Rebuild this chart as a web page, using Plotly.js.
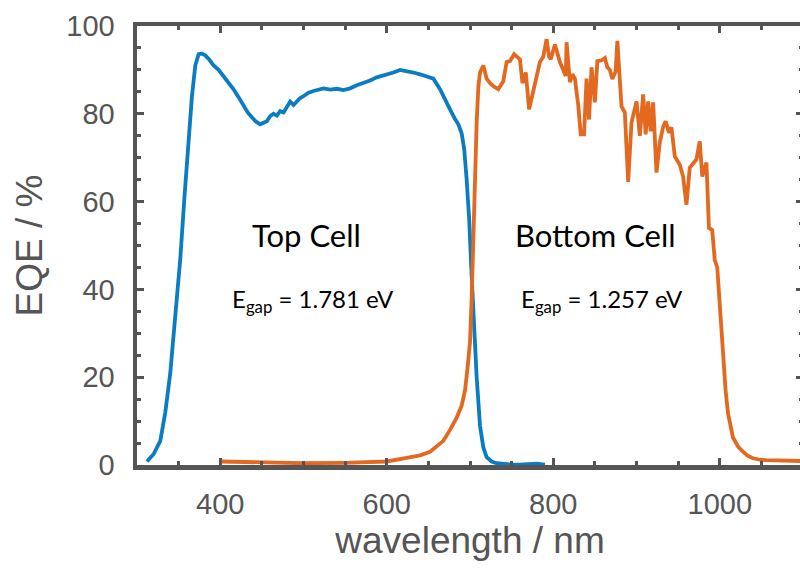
<!DOCTYPE html>
<html>
<head>
<meta charset="utf-8">
<script src="https://cdn.plot.ly/plotly-3.0.1.min.js"></script>
<style>
html,body{margin:0;padding:0;overflow:hidden;background:#fff;width:800px;height:569px;}
#chart{width:806px;height:569px;}
</style>
</head>
<body>
<div id="chart"></div>
<script>
// Top cell EQE (wavelength nm, EQE %)
const topCellWavelength = [312,320,328,334,340,346,352,357,362,366,370,374,378,382,387,392,398,404,410,416,422,428,433,438,443,448,452,456,460,464,468,472,476,480,484,488,492,496,500,506,512,518,524,532,540,548,556,564,572,580,588,594,600,608,616,624,632,640,648,656,664,670,676,682,686,690,693,696,699,702,705,708,712,716,720,726,732,740,750,760,770,780,790];
const topCellEQE = [0.8,2.5,5.5,12,21,34,47,61,74,84,91,93.6,93.7,93.3,92.3,91,90,88.6,87.2,85.6,83.8,81.7,80.3,79.2,78.2,77.6,78.0,78.3,79.5,80.0,79.6,80.6,80.3,81.5,82.8,82.0,82.8,83.6,84.0,84.8,85.2,85.6,85.8,85.5,85.7,85.4,85.8,86.5,87.0,87.6,88.3,88.6,89.0,89.4,90.0,89.8,89.4,89.0,88.6,88.0,85.6,83.5,81.0,78.8,77.6,75.5,72,65,56,43,31,20,9,4,1.8,0.8,0.4,0.2,0.1,0.1,0.2,0.3,0.1];

// Bottom cell EQE
const bottomCellWavelength = [400,420,450,500,550,600,624,640,652,662,668,676,684,690,694,697,700,702,704,706,708,710,712,716,720,724,728,734,740,744,748,753,757,760,763,767,771,776,780,784,788,792,795,797,802,805,808,812,815,816,818,820,823,826,830,833,837,840,843,846,850,853,858,862,865,868,871,875,877,880,882,886,890,894,900,904,908,911,914,917,920,924,928,932,935,939,942,946,952,956,960,964,968,972,976,979,984,987,991,994,997,1001,1004,1007,1010,1016,1022,1027,1033,1039,1048,1056,1070,1087,1100];
const bottomCellEQE = [0.8,0.7,0.5,0.4,0.5,0.8,1.6,2.2,3.0,4.5,5.5,8,10.8,13.5,17,22,28,38,52,66,78,86,89.4,91,88,87,86.3,85.6,87.4,91.8,92,93.6,93,92.4,87,89.4,81,85,88.5,91.8,93,97,93,92.4,95.8,93.5,91.8,90,88.6,96.3,90,87.2,89,88,82,75.3,75.3,88,78.7,90.6,82.6,92,92.2,92.7,90.6,90,87.9,89.7,96.6,86,81.7,80.3,64.5,78,82.8,75,84.4,75.3,82.8,76,82.6,66.6,73.5,77,78.3,75.7,76.9,70.3,68.4,65.7,59.3,67.7,68.5,69.6,73.7,65.7,68.9,54,53.5,46.7,45,35,25.4,17,11.7,6.2,4.2,3.2,2.2,1.6,1.2,1.1,1.0,0.9,0.9];

const xTicks = [400,600,800,1000];
const yTicks = [0,20,40,60,80,100];

const axisColor = '#555555';
const blue = '#0A7DC2';
const orange = '#E2691F';

const traces = [
  {x: topCellWavelength, y: topCellEQE, type: 'scatter', mode: 'lines', line: {color: blue, width: 3.8}, hoverinfo: 'skip'},
  {x: bottomCellWavelength, y: bottomCellEQE, type: 'scatter', mode: 'lines', line: {color: orange, width: 3.8}, hoverinfo: 'skip'}
];

function axis(extra) {
  return Object.assign({
    showline: true, linecolor: axisColor, linewidth: 4.5, mirror: 'ticks',
    ticks: 'inside', ticklen: 7, tickwidth: 3, tickcolor: axisColor,
    showgrid: false, zeroline: false,
    tickfont: {family: 'Liberation Sans, Arial, sans-serif', size: 29, color: axisColor}
  }, extra);
}

const layout = {
  width: 806, height: 569, autosize: false,
  margin: {l: 137, r: 3, t: 26, b: 104},
  paper_bgcolor: '#fff', plot_bgcolor: '#fff',
  showlegend: false,
  xaxis: axis({
    range: [300, 1100], tickvals: xTicks, ticktext: xTicks.map(String),
    ticklabelstandoff: 10,
    minor: {ticks: 'inside', ticklen: 4, tickwidth: 3, tickcolor: axisColor, dtick: 50, tick0: 0, showgrid: false},
    title: {text: 'wavelength / nm', font: {family: 'Liberation Sans, Arial, sans-serif', size: 37, color: axisColor}, standoff: 4}
  }),
  yaxis: axis({
    range: [0, 100], tickvals: yTicks, ticktext: yTicks.map(String),
    ticklabelstandoff: 12,
    minor: {ticks: 'inside', ticklen: 4, tickwidth: 3, tickcolor: axisColor, dtick: 5, tick0: 0, showgrid: false},
    title: {text: 'EQE / %', font: {family: 'Liberation Sans, Arial, sans-serif', size: 37, color: axisColor}, standoff: 14}
  }),
  annotations: [
    {x: 504, y: 52.3, xref: 'x', yref: 'y', text: 'Top Cell', showarrow: false,
     font: {family: 'Lato, sans-serif', size: 31, color: '#000'}},
    {x: 511, y: 37.5, xref: 'x', yref: 'y', text: 'E<sub>gap</sub> = 1.781 eV', showarrow: false,
     font: {family: 'Lato, sans-serif', size: 24, color: '#000'}},
    {x: 851, y: 52.3, xref: 'x', yref: 'y', text: 'Bottom Cell', showarrow: false,
     font: {family: 'Lato, sans-serif', size: 31, color: '#000'}},
    {x: 859, y: 37.5, xref: 'x', yref: 'y', text: 'E<sub>gap</sub> = 1.257 eV', showarrow: false,
     font: {family: 'Lato, sans-serif', size: 24, color: '#000'}}
  ]
};

Plotly.newPlot('chart', traces, layout, {staticPlot: true, displayModeBar: false});
</script>
</body>
</html>
